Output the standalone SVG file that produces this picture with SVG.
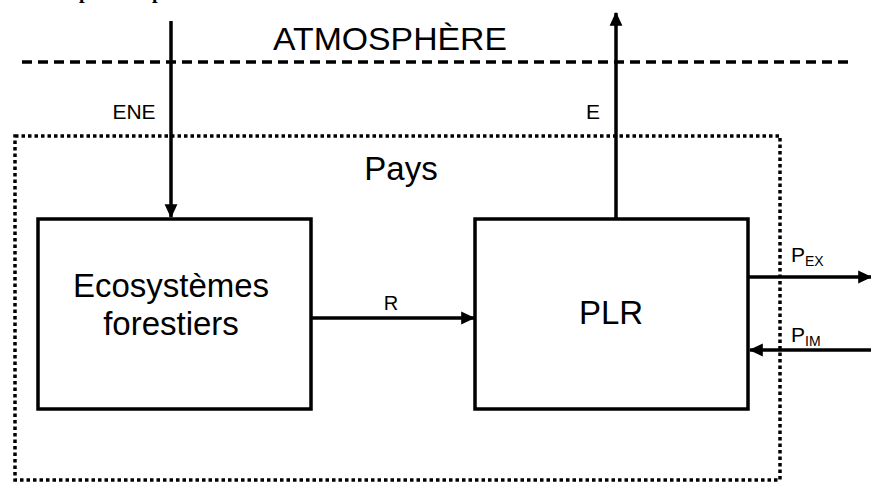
<svg xmlns="http://www.w3.org/2000/svg" width="871" height="482" viewBox="0 0 871 482">
<style>
.t{font-family:"Liberation Sans",Arial,sans-serif;fill:#000}
.box{fill:#fff;stroke:#000;stroke-width:3.5}
.ln{stroke:#000;stroke-width:3.5;fill:none}
</style>
<defs>
<marker id="ah" markerUnits="userSpaceOnUse" markerWidth="14" markerHeight="14" viewBox="0 0 12 12" refX="11" refY="6" orient="auto">
<path d="M0,0.5 L12,6 L0,11.5 Z" fill="#000"/>
</marker>
</defs>
<rect width="871" height="482" fill="#fff"/>
<text x="79" y="-2.5" font-family="Liberation Serif,serif" font-weight="bold" font-size="20">p</text>
<text x="152" y="-2.5" font-family="Liberation Serif,serif" font-weight="bold" font-size="20">p</text>
<g id="atmosphere">
<text class="t" x="390" y="50" font-size="32" text-anchor="middle" textLength="234" lengthAdjust="spacingAndGlyphs">ATMOSPHÈRE</text>
<line class="ln" x1="22" y1="62" x2="852" y2="62" stroke-width="3" stroke-dasharray="10,6"/>
</g>
<g id="pays">
<rect x="15" y="136" width="765" height="344" fill="none" stroke="#000" stroke-width="3.5" stroke-dasharray="3.5,3"/>
<text class="t" x="401" y="180" font-size="33" text-anchor="middle">Pays</text>
</g>
<g id="ecosystemes">
<rect class="box" x="38" y="219" width="273" height="190"/>
<text class="t" x="171" y="297" font-size="33" text-anchor="middle">Ecosystèmes</text>
<text class="t" x="171" y="335" font-size="33" text-anchor="middle">forestiers</text>
</g>
<g id="plr">
<rect class="box" x="475" y="219" width="273" height="190"/>
<text class="t" x="611" y="324" font-size="33" text-anchor="middle">PLR</text>
</g>
<g id="connectors">
<line class="ln" x1="171" y1="21" x2="171" y2="217" marker-end="url(#ah)"/>
<text class="t" x="134" y="119" font-size="21" text-anchor="middle">ENE</text>
<line class="ln" x1="616" y1="219" x2="616" y2="13" marker-end="url(#ah)"/>
<text class="t" x="593" y="119" font-size="21" text-anchor="middle">E</text>
<line class="ln" x1="311" y1="318" x2="474" y2="318" marker-end="url(#ah)"/>
<text class="t" x="391" y="310" font-size="20" text-anchor="middle">R</text>
<line class="ln" x1="748" y1="277" x2="871" y2="277" marker-end="url(#ah)"/>
<text class="t" x="791" y="262" font-size="21">P<tspan font-size="14" dy="4">EX</tspan></text>
<line class="ln" x1="871" y1="350" x2="750" y2="350" marker-end="url(#ah)"/>
<text class="t" x="791" y="342" font-size="21">P<tspan font-size="14" dy="4">IM</tspan></text>
</g>
</svg>
